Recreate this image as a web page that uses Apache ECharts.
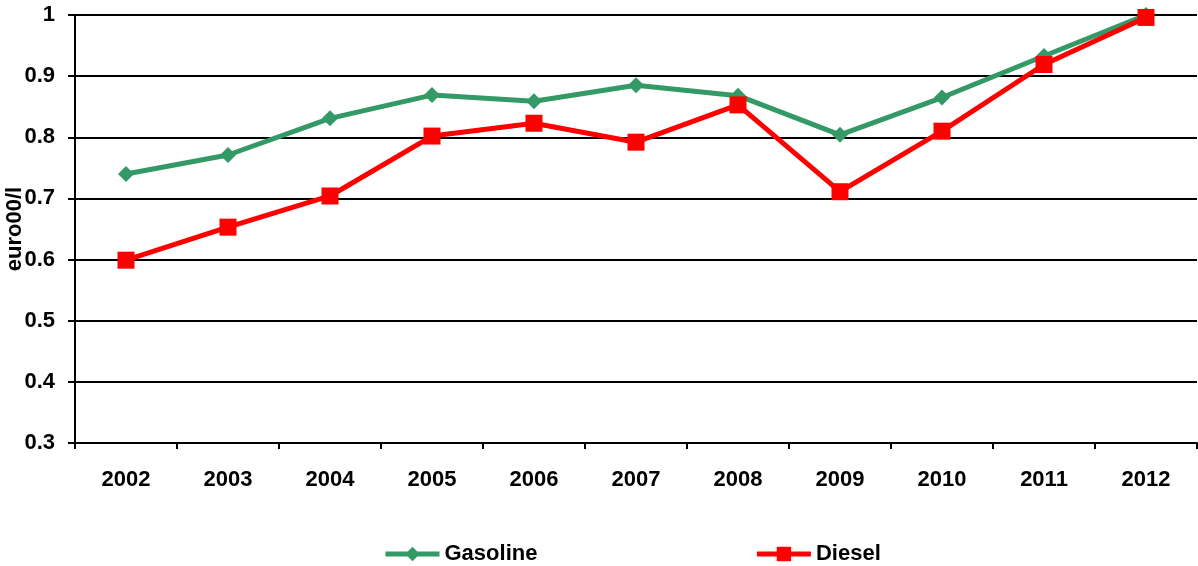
<!DOCTYPE html>
<html>
<head>
<meta charset="utf-8">
<script src="https://cdn.jsdelivr.net/npm/echarts@6/dist/echarts.min.js"></script>
<style>
  html, body { margin: 0; padding: 0; background: #fff; }
  #chart { width: 1198px; height: 566px; }
</style>
</head>
<body>
<div id="chart"></div>
<script>
const years = ['2002', '2003', '2004', '2005', '2006', '2007', '2008', '2009', '2010', '2011', '2012']
const gasoline = [0.74, 0.771, 0.831, 0.869, 0.859, 0.885, 0.868, 0.804, 0.865, 0.933, 1.0]
const diesel = [0.599, 0.653, 0.704, 0.802, 0.823, 0.792, 0.853, 0.711, 0.81, 0.919, 0.996]

const font = 'Liberation Sans, Arial, sans-serif'

let chart = echarts.init(document.getElementById('chart'))

chart.setOption({
  animation: false,
  grid: { left: 75, right: 1, top: 15, bottom: 123, outerBoundsMode: 'none', containLabel: false },
  legend: {
    top: 538,
    left: 378,
    itemGap: 217,
    itemWidth: 54,
    itemHeight: 18,
    lineStyle: { width: 5 },
    textStyle: { fontFamily: font, fontSize: 22, fontWeight: 'bold', color: '#000' },
    data: ['Gasoline', 'Diesel']
  },
  xAxis: {
    type: 'category',
    data: years,
    boundaryGap: true,
    axisLine: { lineStyle: { color: '#000', width: 2 } },
    axisTick: { show: true, length: 6, lineStyle: { color: '#000', width: 2 } },
    axisLabel: { margin: 26, fontFamily: font, fontSize: 22, fontWeight: 'bold', color: '#000' },
    splitLine: { show: false }
  },
  yAxis: {
    type: 'value',
    min: 0.3,
    max: 1,
    interval: 0.1,
    name: 'euro00/l',
    nameLocation: 'middle',
    nameRotate: 90,
    nameGap: 49,
    nameMoveOverlap: false,
    nameTextStyle: { fontFamily: font, fontSize: 22, fontWeight: 'bold', color: '#000' },
    axisLine: { show: true, lineStyle: { color: '#000', width: 2 } },
    axisTick: { show: true, length: 7, lineStyle: { color: '#000', width: 2 } },
    axisLabel: {
      margin: 20,
      fontFamily: font, fontSize: 22, fontWeight: 'bold', color: '#000',
      formatter: v => String(Math.round(v * 10) / 10)
    },
    splitLine: { show: true, lineStyle: { color: '#000', width: 2 } }
  },
  series: [
    {
      name: 'Gasoline',
      type: 'line',
      data: gasoline,
      symbol: 'diamond',
      symbolSize: 16,
      lineStyle: { color: '#339966', width: 5 },
      itemStyle: { color: '#339966' }
    },
    {
      name: 'Diesel',
      type: 'line',
      data: diesel,
      symbol: 'rect',
      symbolSize: 17,
      lineStyle: { color: '#ff0000', width: 5 },
      itemStyle: { color: '#ff0000' }
    }
  ]
})
</script>
</body>
</html>
